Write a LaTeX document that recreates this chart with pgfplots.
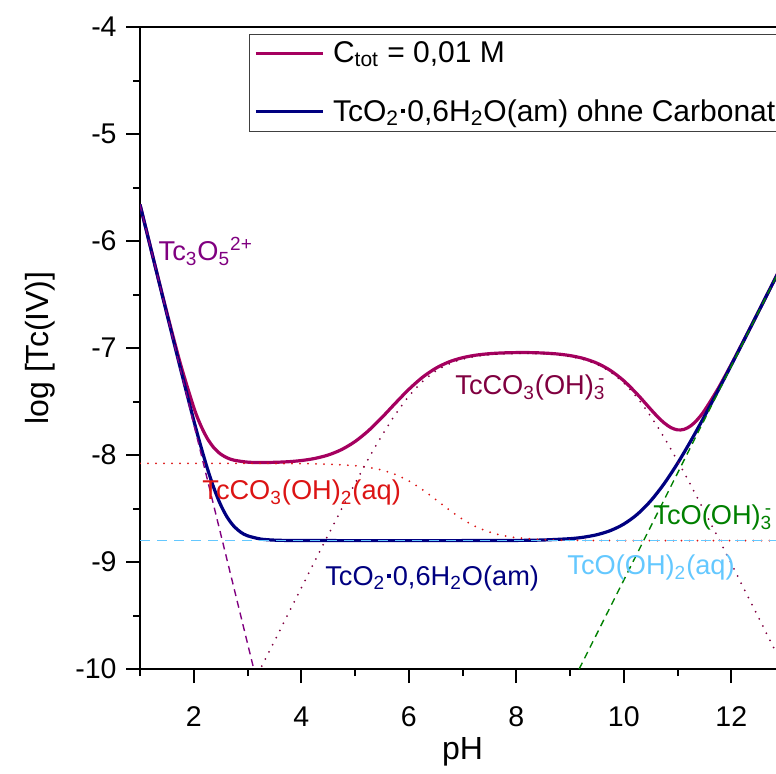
\documentclass[border=0pt]{standalone}
\usepackage{fontspec}
\setmainfont{Liberation Sans}
\usepackage{pgfplots}
\pgfplotsset{compat=1.18}

\definecolor{cmag}{RGB}{165,0,95}
\definecolor{cnavy}{RGB}{0,0,128}
\definecolor{cpurp}{RGB}{128,0,128}
\definecolor{cmaroon}{RGB}{128,0,64}
\definecolor{cred}{RGB}{220,20,20}
\definecolor{cgreen}{RGB}{0,128,0}
\definecolor{clblue}{RGB}{100,200,255}

% small square dot used in the hydrate formula
\newcommand{\sqdot}{\kern0.07em\raisebox{0.26em}{\rule{0.14em}{0.14em}}\kern0.07em}
% subscript with a superscript charge stacked over it
\newcommand{\subsup}[2]{\textsubscript{#1}\llap{\textsuperscript{#2}}}
\newcommand{\annfont}{\fontsize{13.6}{16}\selectfont}

\begin{document}
\begin{tikzpicture}
\useasboundingbox (0,0) rectangle (388pt,386.5pt);
\begin{axis}[
  at={(70pt,52pt)}, anchor=south west,
  scale only axis, width=322.5pt, height=321pt,
  xmin=1, xmax=13, ymin=-10, ymax=-4,
  axis line style={line width=1pt},
  tick align=outside, tick pos=left,
  xtick={2,4,6,8,10,12}, xticklabels={2,4,6,8,10,12},
  minor xtick={1,3,5,7,9,11,13},
  ytick={-10,-9,-8,-7,-6,-5,-4}, yticklabels={-10,-9,-8,-7,-6,-5,-4},
  minor ytick={-9.5,-8.5,-7.5,-6.5,-5.5,-4.5},
  major tick length=7pt, minor tick length=3.5pt,
  tick style={black, line width=1pt},
  tick label style={font=\fontsize{14.25}{17}\selectfont},
  xticklabel style={inner sep=0pt, yshift=-11.5pt},
  yticklabel style={inner sep=0pt, xshift=-4.5pt},
  xlabel={pH}, ylabel={log [Tc(IV)]},
  label style={font=\fontsize{16}{19}\selectfont},
  xlabel style={at={(axis description cs:0.5,-0.129)}, anchor=center},
  ylabel style={at={(axis description cs:-0.155,0.5)}, anchor=center},
  legend cell align=left,
  legend style={at={(axis description cs:0.169,0.9896)}, anchor=north west,
    draw=black!75, line width=0.5pt, fill=white,
    font=\fontsize{15}{18}\selectfont,
    inner xsep=2.35pt, inner ysep=0pt, row sep=9.5pt,
    nodes={inner sep=0pt, minimum height=19.5pt}},
  legend image code/.code={\draw[#1] (0pt,0pt) -- (33.5pt,0pt);},
]

% total solubility with carbonate
\addplot[cmag, line width=1.6pt, smooth] coordinates {
(1,-5.6583) (1.25,-6.1670) (1.5,-6.6679) (1.75,-7.1438) (2,-7.5550)
(2.125,-7.7174) (2.25,-7.8432) (2.375,-7.9326) (2.5,-7.9912) (2.625,-8.0273)
(2.75,-8.0484) (3,-8.0666) (3.25,-8.0705) (3.5,-8.0683) (3.75,-8.0630)
(4,-8.0518) (4.25,-8.0323) (4.5,-8.0002) (4.75,-7.9493) (5,-7.8743)
(5.25,-7.7730) (5.5,-7.6499) (5.75,-7.5164) (6,-7.3872) (6.25,-7.2759)
(6.5,-7.1900) (6.75,-7.1296) (7,-7.0907) (7.25,-7.0669) (7.5,-7.0530)
(7.75,-7.0458) (8,-7.0428) (8.25,-7.0429) (8.5,-7.0468) (8.75,-7.0552)
(9,-7.0708) (9.25,-7.0976) (9.5,-7.1414) (9.75,-7.2092) (10,-7.3059)
(10.25,-7.4311) (10.5,-7.5719) (10.625,-7.6398) (10.75,-7.6993) (10.875,-7.7433)
(11,-7.7652) (11.125,-7.7598) (11.25,-7.7261) (11.375,-7.6663) (11.5,-7.5858)
(11.75,-7.3840) (12,-7.1539) (12.25,-6.9125) (12.5,-6.6662) (12.75,-6.4179)
(13,-6.1689)};
\addlegendentry{\hspace*{4.3pt}C\textsubscript{tot} = 0,01 M}

% solubility without carbonate
\addplot[cnavy, line width=1.6pt, smooth] coordinates {
(1,-5.6597) (1.25,-6.1713) (1.5,-6.6817) (1.75,-7.1868) (2,-7.6761)
(2.125,-7.9066) (2.25,-8.1205) (2.375,-8.3095) (2.5,-8.4652) (2.625,-8.5840)
(2.75,-8.6674) (2.875,-8.7217) (3,-8.7548) (3.25,-8.7857) (3.5,-8.7955)
(3.75,-8.7986) (4,-8.7996) (5,-8.8) (6,-8.8) (7,-8.7999) (8,-8.7982)
(8.5,-8.7942) (9,-8.7819) (9.25,-8.7683) (9.5,-8.7450) (9.75,-8.7066)
(10,-8.6457) (10.25,-8.5549) (10.5,-8.4291) (10.75,-8.2687) (11,-8.0786)
(11.25,-7.8662) (11.5,-7.6390) (11.75,-7.4023) (12,-7.1600) (12.25,-6.9143)
(12.5,-6.6668) (12.75,-6.4182) (13,-6.1690)};
\addlegendentry{\hspace*{4.3pt}TcO\textsubscript{2}\sqdot 0,6H\textsubscript{2}O(am) ohne Carbonat}

% TcCO3(OH)2(aq)
\addplot[cred, line width=1pt, line cap=round, dash pattern=on 0pt off 4pt, smooth] coordinates {
(1,-8.0786) (3,-8.0787) (4,-8.0808) (4.5,-8.0856) (5,-8.1000)
(5.25,-8.1156) (5.5,-8.1414) (5.75,-8.1823) (6,-8.2420) (6.25,-8.3215)
(6.5,-8.4154) (6.75,-8.5127) (7,-8.6005) (7.25,-8.6701) (7.5,-8.7197)
(7.75,-8.7522) (8,-8.7723) (8.5,-8.7911) (9,-8.7973) (10,-8.7999) (13,-8.8)};

% TcCO3(OH)3-
\addplot[cmaroon, line width=1pt, line cap=round, dash pattern=on 0pt off 4pt, smooth] coordinates {
(3.2,-10.04) (3.5,-9.741) (3.75,-9.4915) (4,-9.2427) (4.25,-8.9949)
(4.5,-8.7486) (4.75,-8.5052) (5,-8.2666) (5.25,-8.0362) (5.5,-7.8190)
(5.75,-7.6219) (6,-7.4525) (6.25,-7.3168) (6.5,-7.2165) (6.75,-7.1480)
(7,-7.1043) (7.25,-7.0778) (7.5,-7.0624) (7.75,-7.0543) (8,-7.0509)
(8.25,-7.0509) (8.5,-7.0547) (8.75,-7.0633) (9,-7.0794) (9.25,-7.1070)
(9.5,-7.1524) (9.75,-7.2233) (10,-7.3263) (10.25,-7.4649) (10.5,-7.6367)
(10.75,-7.8357) (11,-8.0542) (11.25,-8.2854) (11.5,-8.5245) (11.75,-8.7682)
(12,-9.0146) (12.25,-9.2626) (12.5,-9.5115) (12.75,-9.7608) (13,-10.0105)};

% Tc3O5^2+
\addplot[cpurp, line width=0.7pt, dash pattern=on 3.5pt off 2.5pt] coordinates {(1,-5.66) (3.12,-10.006)};
% TcO(OH)3-
\addplot[cgreen, line width=0.7pt, dash pattern=on 3.5pt off 2.5pt] coordinates {(9.17,-10) (13,-6.17)};
% TcO(OH)2(aq)
\addplot[clblue, line width=0.8pt, dash pattern=on 5pt off 3.5pt] coordinates {(1,-8.8) (13,-8.8)};

\begin{scope}[every node/.style={anchor=base west, inner sep=0pt, font=\annfont}]
\node[text=cpurp] at (axis cs:1.34,-6.184) {Tc\textsubscript{3}O\textsubscript{5}\textsuperscript{2+}};
\node[text=cmaroon] at (axis cs:6.86,-7.439) {TcCO\textsubscript{3}(OH)\subsup{3}{-}};
\node[text=cred] at (axis cs:2.153,-8.42) {TcCO\textsubscript{3}(OH)\textsubscript{2}(aq)};
\node[text=cnavy] at (axis cs:4.44,-9.215) {TcO\textsubscript{2}\sqdot 0,6H\textsubscript{2}O(am)};
\node[text=cgreen] at (axis cs:10.545,-8.654) {TcO(OH)\subsup{3}{-}};
\node[text=clblue] at (axis cs:8.944,-9.121) {TcO(OH)\textsubscript{2}(aq)};
\end{scope}
\end{axis}
\end{tikzpicture}
\end{document}
